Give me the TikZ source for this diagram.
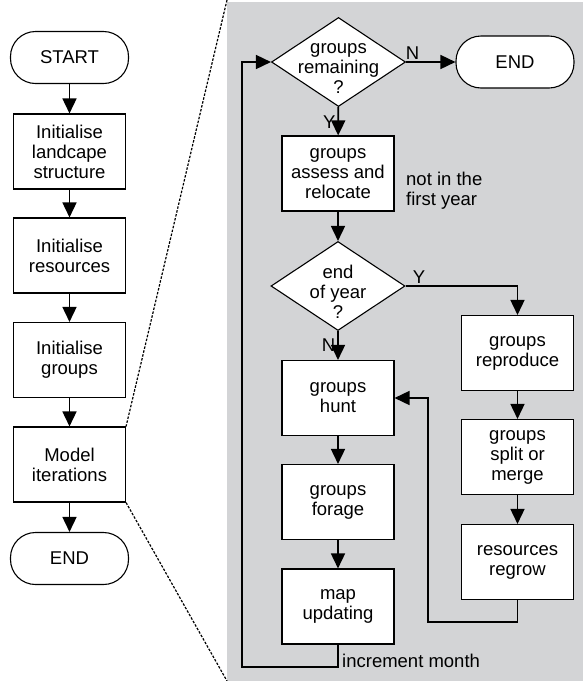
\documentclass[tikz,border=0pt]{standalone}
\usepackage{fontspec}
\setmainfont{Liberation Sans}
\usetikzlibrary{positioning, shapes.geometric, arrows.meta}

\definecolor{panelgray}{RGB}{211,212,214}

\begin{document}
\begin{tikzpicture}[x=1pt, y=-1pt,
        font=\fontsize{18.5}{20}\selectfont,
        box/.style={rectangle, draw, line width=1.1pt, fill=white,
                    minimum width=112pt, minimum height=75pt,
                    inner sep=1pt, align=center},
        terminal/.style={rectangle, rounded corners=25pt, draw,
                         line width=1.1pt, fill=white,
                         minimum width=118pt, minimum height=52pt},
        decision/.style={diamond, draw, line width=1.1pt, fill=white,
                         minimum width=134pt, minimum height=89pt,
                         inner sep=0pt},
        arr/.style={line width=1.6pt, -{Triangle[length=15pt, width=14pt]}},
        zoomline/.style={line width=1.2pt, dash pattern=on 2.5pt off 1.5pt},
        note/.style={inner sep=1pt, align=left}]
      \useasboundingbox (0,0) rectangle (583,681);
      \fill[panelgray] (227,2) rectangle (583,681);
      \coordinate (paneltop) at (227,0);
      \coordinate (panelbot) at (227,681);

      % main sequence
      \node[terminal] (start)      at (69.5,57.5) {START};
      \node[box]      (landscape)  at (69.5,151.5) {Initialise\\landcape\\structure};
      \node[box]      (resources)  at (69.5,255.5) {Initialise\\resources};
      \node[box]      (initgroups) at (69.5,360)   {Initialise\\groups};
      \node[box]      (model)      at (69.5,464.5) {Model\\iterations};
      \node[terminal] (endleft)    at (69.5,558.5) {END};
      \draw[arr] (start) -- (landscape);
      \draw[arr] (landscape) -- (resources);
      \draw[arr] (resources) -- (initgroups);
      \draw[arr] (initgroups) -- (model);
      \draw[arr] (model) -- (endleft);

      % zoom lines
      \draw[zoomline] (paneltop) -- (model.north east);
      \draw[zoomline] (model.south east) -- (panelbot);

      % model iterations
      \node[decision, label={[yshift=-7pt, align=center]center:groups\\remaining\\?}]
            (remaining) at (338.5,62) {};
      \node[terminal] (endright)   at (515,62)    {END};
      \node[box]      (relocate)   at (338,173.5) {groups\\assess and\\relocate};
      \node[note, anchor=west] (firstyear) at (405,191) {not in the\\first year};
      \node[decision, label={[yshift=-6pt, align=center]center:end\\of year\\?}]
            (endyear) at (338,286) {};
      \node[box]      (hunt)       at (338,398)   {groups\\hunt};
      \node[box]      (forage)     at (338,502)   {groups\\forage};
      \node[box]      (mapupdate)  at (338,606.5) {map\\updating};
      \node[box]      (reproduce)  at (517.5,353) {groups\\reproduce};
      \node[box]      (splitmerge) at (517.5,457) {groups\\split or\\merge};
      \node[box]      (regrow)     at (517.5,562) {resources\\regrow};
      \node[note, anchor=west] (increment) at (341,661) {increment month};

      \draw[arr] (remaining) -- node[pos=0.13, above=1pt, inner sep=1pt] (lblremN) {N} (endright);
      \draw[arr] (remaining) -- node[pos=0.55, left=1pt, inner sep=1pt] (lblremY) {Y} (relocate);
      \draw[arr] (relocate) -- (endyear);
      \draw[arr] (endyear.east) -| node[pos=0.06, above=1pt, inner sep=1pt] (lblyearY) {Y} (reproduce.north);
      \draw[arr] (endyear) -- node[pos=0.5, left=1pt, inner sep=1pt] (lblyearN) {N} (hunt);
      \draw[arr] (hunt) -- (forage);
      \draw[arr] (forage) -- (mapupdate);
      \draw[arr] (reproduce) -- (splitmerge);
      \draw[arr] (splitmerge) -- (regrow);

      % loops back
      \coordinate (huntloop)  at (428,622);
      \coordinate (monthloop) at (242,667);
      \draw[arr] (regrow.south) |- (huntloop) |- (hunt.east);
      \draw[arr] (mapupdate.south) |- (monthloop) |- (remaining.west);
    \end{tikzpicture}
\end{document}
